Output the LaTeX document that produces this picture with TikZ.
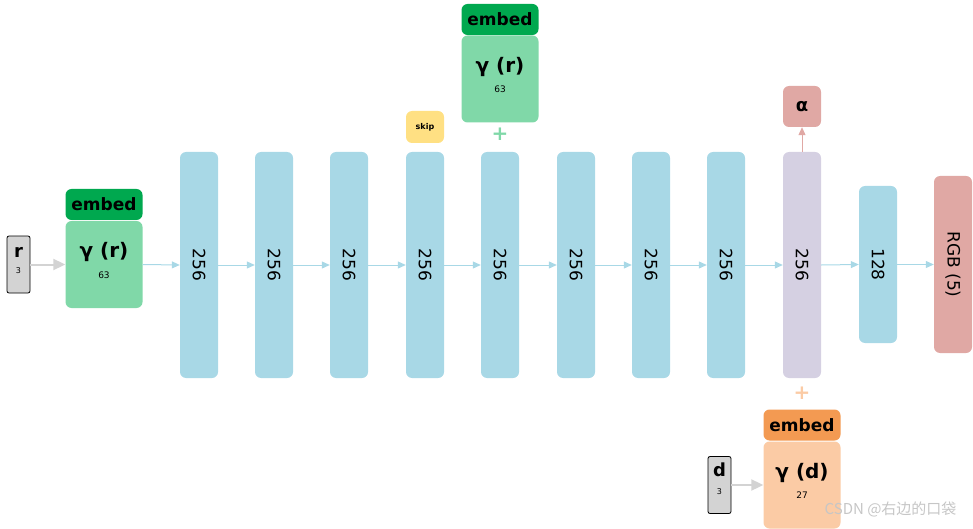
\documentclass[tikz,border=0pt]{standalone}
\usepackage{fontspec}
\setmainfont{DejaVu Sans}
\newfontfamily\cjk{Noto Sans CJK SC}
\usetikzlibrary{arrows.meta}
\definecolor{colb}{HTML}{A8D8E6}
\definecolor{dgreen}{HTML}{00A84F}
\definecolor{lgreen}{HTML}{80D8A8}
\definecolor{lpurp}{HTML}{D5D0E2}
\definecolor{pinkc}{HTML}{E0A8A4}
\definecolor{dorange}{HTML}{F39A52}
\definecolor{lorange}{HTML}{FBCBA5}
\definecolor{yel}{HTML}{FFE083}
\definecolor{grayb}{HTML}{D3D3D3}
\tikzset{
 col/.style={fill=colb,rounded corners=6pt,minimum width=38pt,minimum height=226pt,inner sep=0pt},
 lbl/.style={rotate=-90,font=\fontsize{17}{17}\selectfont},
 flow/.style={draw=colb,line width=1pt,-{Triangle[length=8pt,width=7pt]}},
 inarr/.style={draw=grayb,line width=2pt,-{Triangle[length=12pt,width=11pt]}},
 hdr/.style={rounded corners=6pt,minimum width=77pt,minimum height=31pt,inner sep=0pt,font=\bfseries\fontsize{17}{17}\selectfont},
 body/.style={rounded corners=6pt,minimum width=77pt,minimum height=87pt,inner sep=0pt},
 inbox/.style={draw=black,fill=grayb,rounded corners=2pt,minimum width=23pt,minimum height=57pt,inner sep=0pt,line width=0.8pt},
}
\begin{document}
\begin{tikzpicture}[x=1pt,y=-1pt]
\useasboundingbox (0,0) rectangle (973,529);
\foreach \i/\x in {1/199,2/274,3/349,4/425,5/500,6/576,7/651,8/726}{
 \node[col] (c\i) at (\x,265) {}; \node[lbl] at (\x,265) {256};}
\node[col,fill=lpurp] (c9) at (802,265) {}; \node[lbl] at (802,265) {256};
\node[col,minimum height=157pt] (c10) at (878,264.5) {}; \node[lbl] at (878,264.5) {128};
\node[col,fill=pinkc,minimum height=177pt] (c11) at (953,264.5) {}; \node[lbl] at (953,264.5) {RGB (5)};
% left embed
\node[body,fill=lgreen] (eb1) at (104,264.5) {};
\node[hdr,fill=dgreen] (eh1) at (104,204.5) {embed};
\node[font=\bfseries\fontsize{20}{20}\selectfont] at (104,252) {γ (r)};
\node[font=\fontsize{9}{9}\selectfont] at (104,275) {63};
\node[inbox] (r) at (18.5,264.5) {};
\node[font=\bfseries\fontsize{18}{18}\selectfont] at (18.5,252) {r};
\node[font=\fontsize{8}{8}\selectfont] at (18.5,271) {3};
\draw[inarr] (r.east) -- (eb1.west|-r.east);
% top embed
\node[body,fill=lgreen] (eb2) at (500,79) {};
\node[hdr,fill=dgreen] (eh2) at (500,19.5) {embed};
\node[font=\bfseries\fontsize{20}{20}\selectfont] at (500,67) {γ (r)};
\node[font=\fontsize{9}{9}\selectfont] at (500,89) {63};
\node[font=\bfseries\fontsize{20}{20}\selectfont,text=lgreen] (p1) at (500,134) {+};
% skip
\node[fill=yel,rounded corners=6pt,minimum width=38pt,minimum height=32pt,inner sep=0pt,font=\bfseries\fontsize{8}{8}\selectfont] (skip) at (425,127) {skip};
% alpha
\node[fill=pinkc,rounded corners=6pt,minimum width=38pt,minimum height=41pt,inner sep=0pt,font=\bfseries\fontsize{18}{18}\selectfont] (al) at (802,106.5) {α};
\draw[draw=pinkc,line width=1pt,-{Triangle[length=8pt,width=7pt]}] (c9.north) -- (al.south);
% bottom embed
\node[font=\bfseries\fontsize{20}{20}\selectfont,text=lorange] (p2) at (802,393) {+};
\node[body,fill=lorange] (eb3) at (802,485) {};
\node[hdr,fill=dorange] (eh3) at (802,425) {embed};
\node[font=\bfseries\fontsize{20}{20}\selectfont] at (802,473) {γ (d)};
\node[font=\fontsize{9}{9}\selectfont] at (802,495) {27};
\node[inbox] (d) at (719.5,485) {};
\node[font=\bfseries\fontsize{18}{18}\selectfont] at (719.5,470) {d};
\node[font=\fontsize{8}{8}\selectfont] at (719.5,492) {3};
\draw[inarr] (d.east) -- (eb3.west|-d.east);
% flow
\draw[flow] (eb1.east) -- (c1.west);
\foreach \a/\b in {1/2,2/3,3/4,4/5,5/6,6/7,7/8,8/9,9/10,10/11}{\draw[flow] (c\a.east) -- (c\b.west);}
\node[text=gray!45,font=\cjk\fontsize{15}{15}\selectfont,anchor=east] (wm) at (960,509) {CSDN @右边的口袋};
\end{tikzpicture}
\end{document}
